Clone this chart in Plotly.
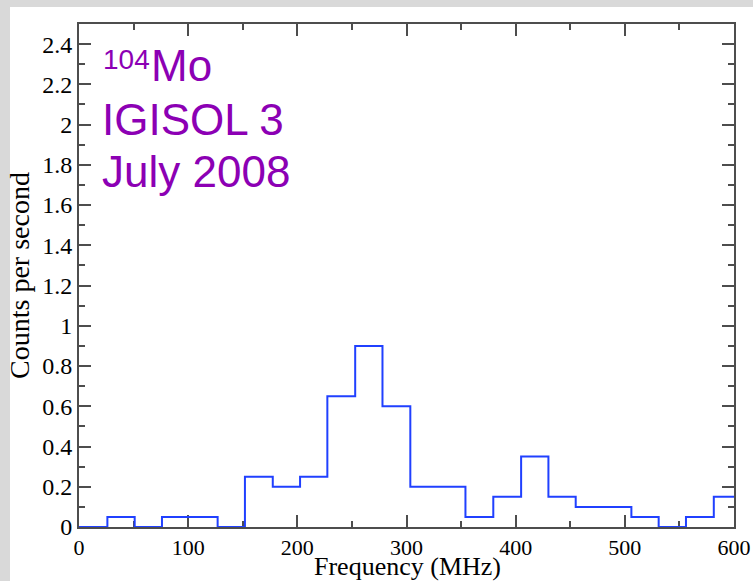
import plotly.graph_objects as go

# Histogram bins: left edges (MHz) and count rate in each bin
freq_edges = [0, 26, 51, 76, 101, 127, 152, 177.5, 202.5, 227.5, 253, 278,
              303.5, 329, 354, 379.5, 405, 430, 455, 480.5, 506, 531, 556, 581.5]
counts = [0, 0.05, 0, 0.05, 0.05, 0, 0.25, 0.2, 0.25, 0.65, 0.9, 0.6,
          0.2, 0.2, 0.05, 0.15, 0.35, 0.15, 0.1, 0.1, 0.05, 0, 0.05, 0.15]
freq_max = 600

x_ticks = [0, 100, 200, 300, 400, 500, 600]
y_ticks = [0, 0.2, 0.4, 0.6, 0.8, 1, 1.2, 1.4, 1.6, 1.8, 2, 2.2, 2.4]

W, H = 753, 581
ML, MR, MT, MB = 79, 19, 24, 54
PW, PH = W - ML - MR, H - MT - MB

def px(xp):
    return (xp - ML) / PW

def py(yp):
    return (H - MB - yp) / PH

AXIS_COLOR = "#4d4d4d"
SERIF = "Liberation Serif"
PURPLE = "#8c00b4"

fig = go.Figure()
fig.add_trace(go.Scatter(
    x=freq_edges + [freq_max],
    y=counts + [counts[-1]],
    mode="lines",
    line=dict(shape="hv", color="#2040ff", width=2),
    hoverinfo="skip",
    showlegend=False,
))

axis_common = dict(
    showgrid=False, zeroline=False, showline=True, linecolor=AXIS_COLOR,
    linewidth=2, mirror="ticks", ticks="inside", tickcolor=AXIS_COLOR,
    tickwidth=1.5, ticklen=12, tickfont=dict(family=SERIF, size=24, color="black"),
    layer="below traces",
)

fig.update_xaxes(
    range=[0, freq_max], tickvals=x_ticks, **axis_common,
    minor=dict(dtick=50, ticks="inside", ticklen=6, tickcolor=AXIS_COLOR, tickwidth=1.5),
)
fig.update_xaxes(tickfont_size=22)
fig.update_yaxes(
    range=[0, 2.5], tickvals=y_ticks, **axis_common,
    minor=dict(dtick=0.1, ticks="inside", ticklen=6, tickcolor=AXIS_COLOR, tickwidth=1.5),
    title=dict(text="Counts per second", font=dict(family=SERIF, size=28, color="black"), standoff=4),
)

# Horizontal axis title
fig.add_annotation(text="Frequency (MHz)", xref="paper", yref="paper",
                   x=px(407), y=py(566), xanchor="center", yanchor="middle",
                   showarrow=False, font=dict(family=SERIF, size=26, color="black"))

# Label block in the upper-left corner
ann_font = dict(family="Liberation Sans", size=44, color=PURPLE)
annotations = [
    dict(text="104", x=px(101), y=py(59.2), font=dict(family="Liberation Sans", size=28, color=PURPLE)),
    dict(text="Mo", x=px(149), y=py(65.6), font=ann_font),
    dict(text="IGISOL 3", x=px(100), y=py(119.6), font=ann_font),
    dict(text="July 2008", x=px(100), y=py(171.3), font=ann_font),
]
for a in annotations:
    fig.add_annotation(xref="paper", yref="paper", xanchor="left", yanchor="middle",
                       showarrow=False, **a)

# White panel on a light grey surround
fig.add_shape(type="rect", xref="paper", yref="paper", layer="below",
              x0=px(10), x1=px(W + 20), y0=py(H + 20), y1=py(7),
              fillcolor="white", line=dict(width=0))

fig.update_layout(
    width=W, height=H,
    margin=dict(l=ML, r=MR, t=MT, b=MB, autoexpand=False),
    paper_bgcolor="#d9d9d9", plot_bgcolor="white",
)

fig.write_html("out.html", include_plotlyjs=True, config={"displayModeBar": False})
